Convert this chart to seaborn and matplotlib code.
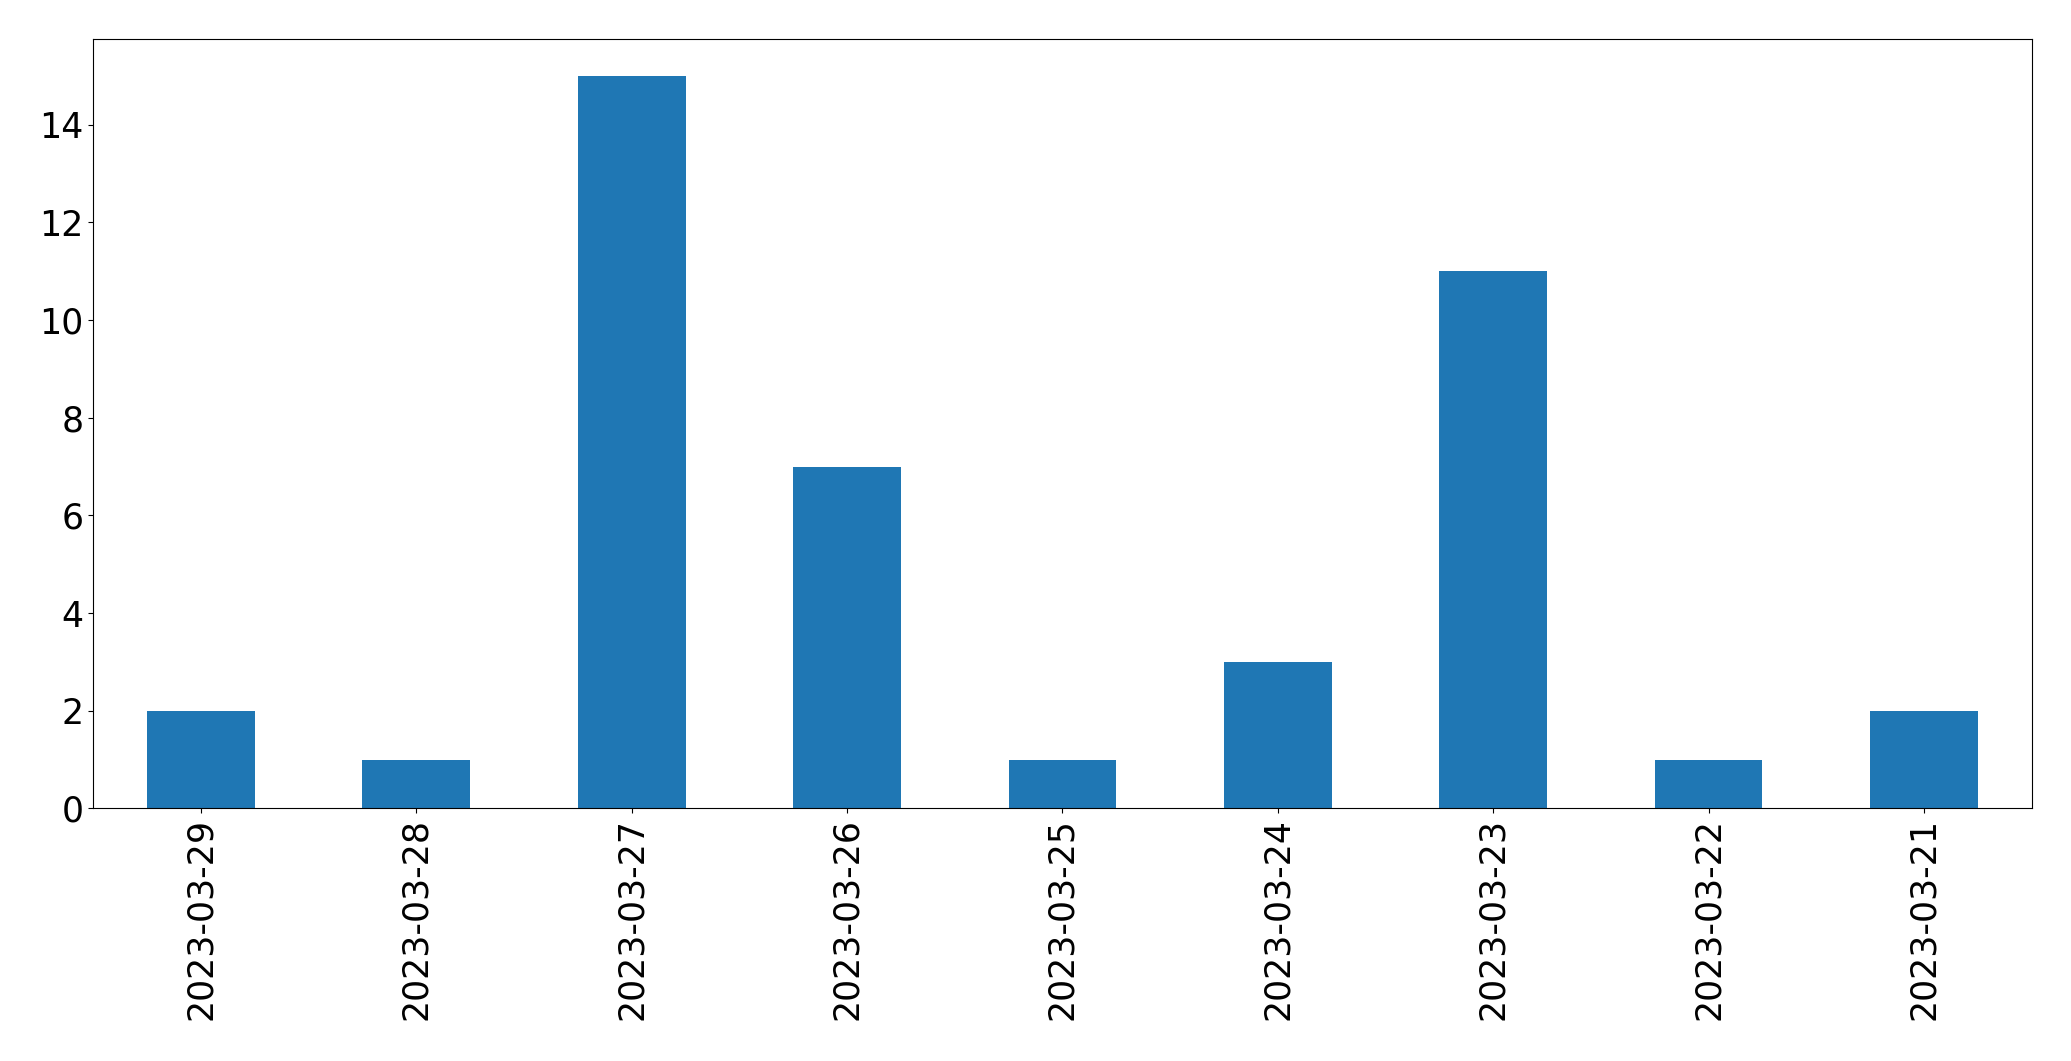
import matplotlib
matplotlib.use("Agg")
import matplotlib.pyplot as plt
import seaborn as sns
import pandas as pd

# Daily counts, newest date first (as in the reference)
dates = ["2023-03-29", "2023-03-28", "2023-03-27", "2023-03-26", "2023-03-25",
         "2023-03-24", "2023-03-23", "2023-03-22", "2023-03-21"]
counts = [2, 1, 15, 7, 1, 3, 11, 1, 2]

df = pd.DataFrame({"date": dates, "count": counts})

fig, ax = plt.subplots(figsize=(20.71, 10.61), dpi=100)
sns.barplot(data=df, x="date", y="count", color="#1f77b4", saturation=1,
            width=0.5, ax=ax)
ax.set_xlim(-0.5, len(dates) - 0.5)
ax.set_xlabel("")
ax.set_ylabel("")
ax.tick_params(axis="x", labelrotation=90, labelsize=25)
ax.tick_params(axis="y", labelsize=25)

plt.subplots_adjust(left=0.045, right=0.981, top=0.963, bottom=0.238)
plt.savefig("out.png", dpi=100)
